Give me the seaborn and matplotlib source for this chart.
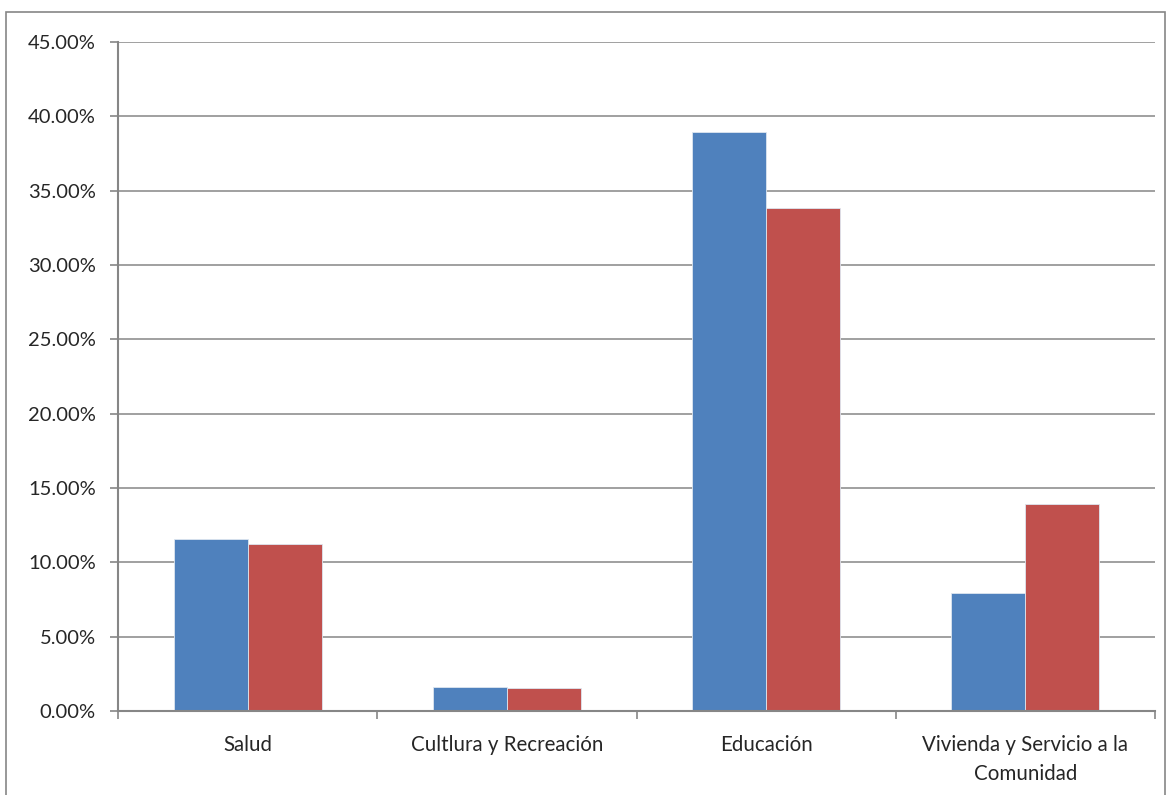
import pandas as pd
import numpy as np
import matplotlib.pyplot as plt
import seaborn as sns
from matplotlib.patches import Rectangle
from matplotlib.ticker import PercentFormatter

categorias = ["Salud", "Cultura y Recreación", "Educación", "Vivienda y Servicio a la\nComunidad"]
etiquetas = ["Salud", "Cultlura y Recreación", "Educación", "Vivienda y Servicio a la\nComunidad"]
serie1 = [11.60, 1.61, 38.97, 7.96]
serie2 = [11.26, 1.53, 33.84, 13.95]
series = ["Serie 1", "Serie 2"]
colores = ["#4F81BD", "#C0504D"]

data = pd.DataFrame({
    "categoria": categorias * 2,
    "valor": serie1 + serie2,
    "serie": [series[0]] * 4 + [series[1]] * 4,
})

sns.set_style("white")
plt.rcParams['font.family'] = ['Lato', 'DejaVu Sans']

fig = plt.figure(figsize=(11.72, 7.95), dpi=100)
ax = fig.add_axes([118 / 1172, 1 - 711 / 795, (1155 - 118) / 1172, (711 - 42) / 795])

sns.barplot(data=data, x="categoria", y="valor", hue="serie", palette=colores,
            width=0.571, gap=0, legend=False, ax=ax, saturation=1,
            linewidth=0.6, edgecolor="#DDE6F0")

gris = "#868686"
ax.set_ylim(0, 45)
ax.set_yticks(np.arange(0, 46, 5))
ax.yaxis.set_major_formatter(PercentFormatter(decimals=2))
ax.set_xlim(-0.5, 3.5)
ax.set_xticks(range(4))
ax.set_xticklabels(etiquetas, linespacing=1.6)
ax.set_xticks(np.arange(-0.5, 4, 1), minor=True)
ax.tick_params(axis="x", which="major", length=0, pad=17, labelsize=14.8)
ax.tick_params(axis="x", which="minor", length=6, color=gris, width=1.2, direction="out", bottom=True)
ax.tick_params(axis="y", length=6, color=gris, width=1.2, direction="out", left=True, labelsize=14.5, pad=10)
ax.grid(axis="y", color=gris, linewidth=1.1)
ax.set_axisbelow(True)
for s in ["top", "right"]:
    ax.spines[s].set_visible(False)
for s in ["left", "bottom"]:
    ax.spines[s].set_color(gris)
    ax.spines[s].set_linewidth(1.5)
ax.set_xlabel("")
ax.set_ylabel("")

fig.patches.append(Rectangle((6 / 1172, -0.01), (1165 - 6) / 1172, 1 - 12 / 795 + 0.01,
                             transform=fig.transFigure, fill=False, edgecolor=gris, linewidth=1.2))

fig.savefig("out.png", dpi=100)
